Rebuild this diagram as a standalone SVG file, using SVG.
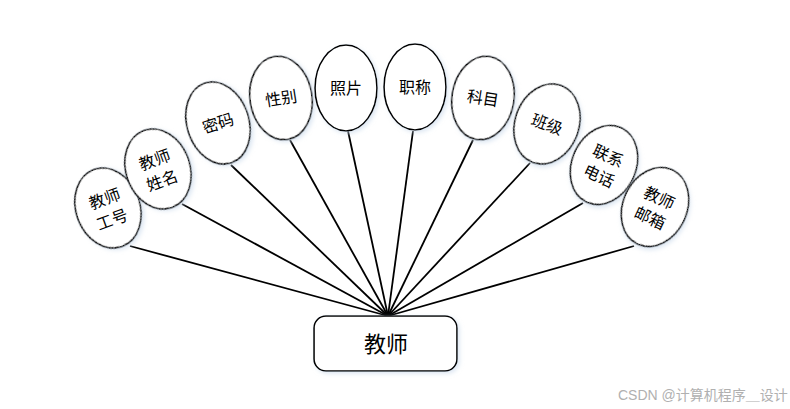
<svg xmlns="http://www.w3.org/2000/svg" width="790" height="409" viewBox="0 0 790 409">
<style>
.e{fill:#fff;stroke:#000;stroke-width:1.6}
.t{font-family:"Liberation Sans","Noto Sans CJK SC",sans-serif;font-size:16px;fill:#000;text-anchor:middle}
.c line{stroke:#000;stroke-width:1.8}
</style>
<defs>
<filter id="sh" x="-20%" y="-20%" width="140%" height="140%">
<feDropShadow dx="2" dy="2" stdDeviation="2" flood-color="#c8d8ea" flood-opacity="0.6"/>
</filter>
</defs>
<rect width="790" height="409" fill="#fff"/>
<g class="c">
<line x1="130" y1="246" x2="388" y2="316"/>
<line x1="182" y1="204" x2="388" y2="316"/>
<line x1="231" y1="165" x2="388" y2="316"/>
<line x1="290" y1="140" x2="388" y2="316"/>
<line x1="348" y1="131" x2="388" y2="316"/>
<line x1="413" y1="131" x2="388" y2="316"/>
<line x1="473" y1="140" x2="388" y2="316"/>
<line x1="530" y1="163" x2="388" y2="316"/>
<line x1="583" y1="203" x2="388" y2="316"/>
<line x1="634" y1="246" x2="388" y2="316"/>
</g>
<g id="n1" transform="translate(108,208) rotate(-20)"><ellipse class="e" filter="url(#sh)" rx="32" ry="41"/><text class="t" y="-4">教师</text><text class="t" y="18">工号</text></g>
<g id="n2" transform="translate(158,169) rotate(-20)"><ellipse class="e" filter="url(#sh)" rx="32" ry="41"/><text class="t" y="-4">教师</text><text class="t" y="18">姓名</text></g>
<g id="n3" transform="translate(218,123) rotate(-18)"><ellipse class="e" filter="url(#sh)" rx="31" ry="42"/><text class="t" y="6">密码</text></g>
<g id="n4" transform="translate(281,98) rotate(-9)"><ellipse class="e" filter="url(#sh)" rx="31" ry="42"/><text class="t" y="6">性别</text></g>
<g id="n5" transform="translate(346,88)"><ellipse class="e" filter="url(#sh)" rx="31" ry="43"/><text class="t" y="6">照片</text></g>
<g id="n6" transform="translate(415,87)"><ellipse class="e" filter="url(#sh)" rx="31" ry="43"/><text class="t" y="6">职称</text></g>
<g id="n7" transform="translate(483,98) rotate(9)"><ellipse class="e" filter="url(#sh)" rx="31" ry="42"/><text class="t" y="6">科目</text></g>
<g id="n8" transform="translate(547,124) rotate(20)"><ellipse class="e" filter="url(#sh)" rx="32" ry="41"/><text class="t" y="6">班级</text></g>
<g id="n9" transform="translate(604,165) rotate(25)"><ellipse class="e" filter="url(#sh)" rx="32" ry="41"/><text class="t" y="-4">联系</text><text class="t" y="18">电话</text></g>
<g id="n10" transform="translate(655,207) rotate(25)"><ellipse class="e" filter="url(#sh)" rx="32" ry="41"/><text class="t" y="-4">教师</text><text class="t" y="18">邮箱</text></g>
<g id="n0"><rect x="314" y="316" width="143" height="55" rx="12" ry="12" class="e" filter="url(#sh)"/><text class="t" x="386" y="352" style="font-size:22px">教师</text></g>
<text x="618" y="400" style="font-family:'Liberation Sans','Noto Sans CJK SC',sans-serif;font-size:14px;fill:#b0b0b0">CSDN @计算机程序＿设计</text>
</svg>
